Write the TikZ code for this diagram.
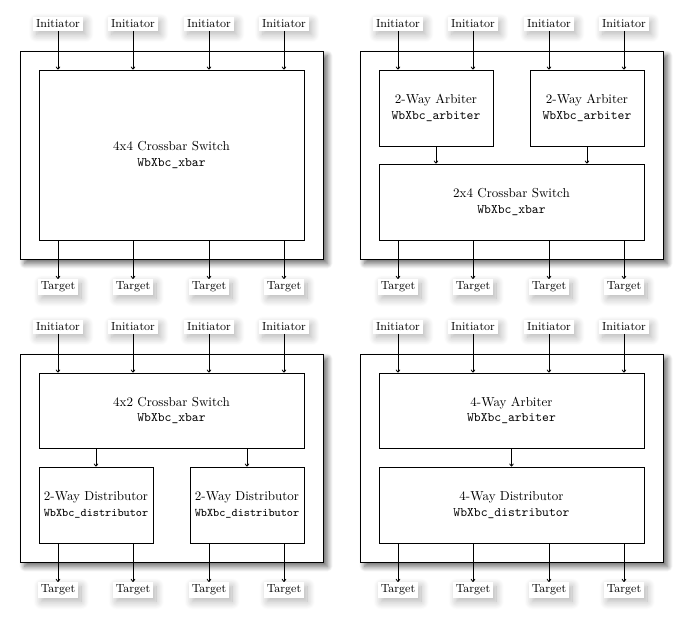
\documentclass[tikz,border=0pt]{standalone}
\usetikzlibrary{shadows.blur,fit,arrows.meta}
\begin{document}
\begin{tikzpicture}[x=0.769pt,y=-0.769pt,
  outer/.style={draw,fill=white,line width=0.65pt,inner sep=0pt,
    blur shadow={shadow xshift=3.5pt,shadow yshift=-3.5pt,shadow blur radius=4pt,shadow blur steps=12,shadow opacity=60}},
  blk/.style={draw,fill=white,line width=0.65pt,inner sep=0pt},
  txt/.style={align=center,inner sep=0pt},
  lbl/.style={fill=white,inner sep=2pt,font=\small,
    blur shadow={shadow xshift=2.5pt,shadow yshift=-3pt,shadow blur radius=6pt,shadow blur steps=12,shadow opacity=30}},
  arr/.style={-{To[length=2.4pt,width=3.6pt]},line width=0.65pt}]
\useasboundingbox (0,0) rectangle (695,629);

% ---------- 4x4 crossbar ----------
\begin{scope}
  \node[outer,fit={(20,51) (323,259)}] (aO) {};
  \node[blk,fit={(39,70) (304,240)}] (aX) {};
  \node[txt] (aXt) at (aX.center) {4x4 Crossbar Switch\\\texttt{WbXbc\_xbar}};
  \foreach \x [count=\i] in {58,133,209,284} {
    \node[lbl] (aI\i) at (\x,24) {Initiator};
    \node[lbl] (aT\i) at (\x,287) {Target};
    \draw[arr] (aI\i.south) -- (aI\i.south |- aX.north);
    \draw[arr] (aT\i.north |- aX.south) -- (aT\i.north);
  }
\end{scope}

% ---------- two arbiters feeding a 2x4 crossbar ----------
\begin{scope}[shift={(340,0)}]
  \node[outer,fit={(20,51) (323,259)}] (bO) {};
  \node[blk,fit={(39,70) (153,146)}] (bA1) {};
  \node[txt] at (bA1.center) {2-Way Arbiter\\\texttt{WbXbc\_arbiter}};
  \node[blk,fit={(190,70) (304,146)}] (bA2) {};
  \node[txt] at (bA2.center) {2-Way Arbiter\\\texttt{WbXbc\_arbiter}};
  \node[blk,fit={(39,164) (304,240)}] (bX) {};
  \node[txt] at (bX.center) {2x4 Crossbar Switch\\\texttt{WbXbc\_xbar}};
  \foreach \x [count=\i] in {58,133,209,284} {
    \node[lbl] (bI\i) at (\x,24) {Initiator};
    \node[lbl] (bT\i) at (\x,287) {Target};
    \draw[arr] (bT\i.north |- bX.south) -- (bT\i.north);
  }
  \draw[arr] (bI1.south) -- (bI1.south |- bA1.north);
  \draw[arr] (bI2.south) -- (bI2.south |- bA1.north);
  \draw[arr] (bI3.south) -- (bI3.south |- bA2.north);
  \draw[arr] (bI4.south) -- (bI4.south |- bA2.north);
  \draw[arr] (bA1.south) -- (bA1.south |- bX.north);
  \draw[arr] (bA2.south) -- (bA2.south |- bX.north);
\end{scope}

% ---------- 4x2 crossbar feeding two distributors ----------
\begin{scope}[shift={(0,303)}]
  \node[outer,fit={(20,51) (323,259)}] (cO) {};
  \node[blk,fit={(39,70) (304,145)}] (cX) {};
  \node[txt] at (cX.center) {4x2 Crossbar Switch\\\texttt{WbXbc\_xbar}};
  \node[blk,fit={(39,164) (153,240)}] (cD1) {};
  \node[txt] at (cD1.center) {2-Way Distributor\\{\small\ttfamily WbXbc\_distributor}};
  \node[blk,fit={(190,164) (304,240)}] (cD2) {};
  \node[txt] at (cD2.center) {2-Way Distributor\\{\small\ttfamily WbXbc\_distributor}};
  \foreach \x [count=\i] in {58,133,209,284} {
    \node[lbl] (cI\i) at (\x,24) {Initiator};
    \node[lbl] (cT\i) at (\x,287) {Target};
    \draw[arr] (cI\i.south) -- (cI\i.south |- cX.north);
  }
  \draw[arr] (cX.south -| cD1.north) -- (cD1.north);
  \draw[arr] (cX.south -| cD2.north) -- (cD2.north);
  \draw[arr] (cT1.north |- cD1.south) -- (cT1.north);
  \draw[arr] (cT2.north |- cD1.south) -- (cT2.north);
  \draw[arr] (cT3.north |- cD2.south) -- (cT3.north);
  \draw[arr] (cT4.north |- cD2.south) -- (cT4.north);
\end{scope}

% ---------- 4-way arbiter feeding a 4-way distributor ----------
\begin{scope}[shift={(340,303)}]
  \node[outer,fit={(20,51) (323,259)}] (dO) {};
  \node[blk,fit={(39,70) (304,145)}] (dA) {};
  \node[txt] at (dA.center) {4-Way Arbiter\\\texttt{WbXbc\_arbiter}};
  \node[blk,fit={(39,164) (304,240)}] (dD) {};
  \node[txt] at (dD.center) {4-Way Distributor\\\texttt{WbXbc\_distributor}};
  \foreach \x [count=\i] in {58,133,209,284} {
    \node[lbl] (dI\i) at (\x,24) {Initiator};
    \node[lbl] (dT\i) at (\x,287) {Target};
    \draw[arr] (dI\i.south) -- (dI\i.south |- dA.north);
    \draw[arr] (dT\i.north |- dD.south) -- (dT\i.north);
  }
  \draw[arr] (dA.south) -- (dD.north);
\end{scope}
\end{tikzpicture}
\end{document}
